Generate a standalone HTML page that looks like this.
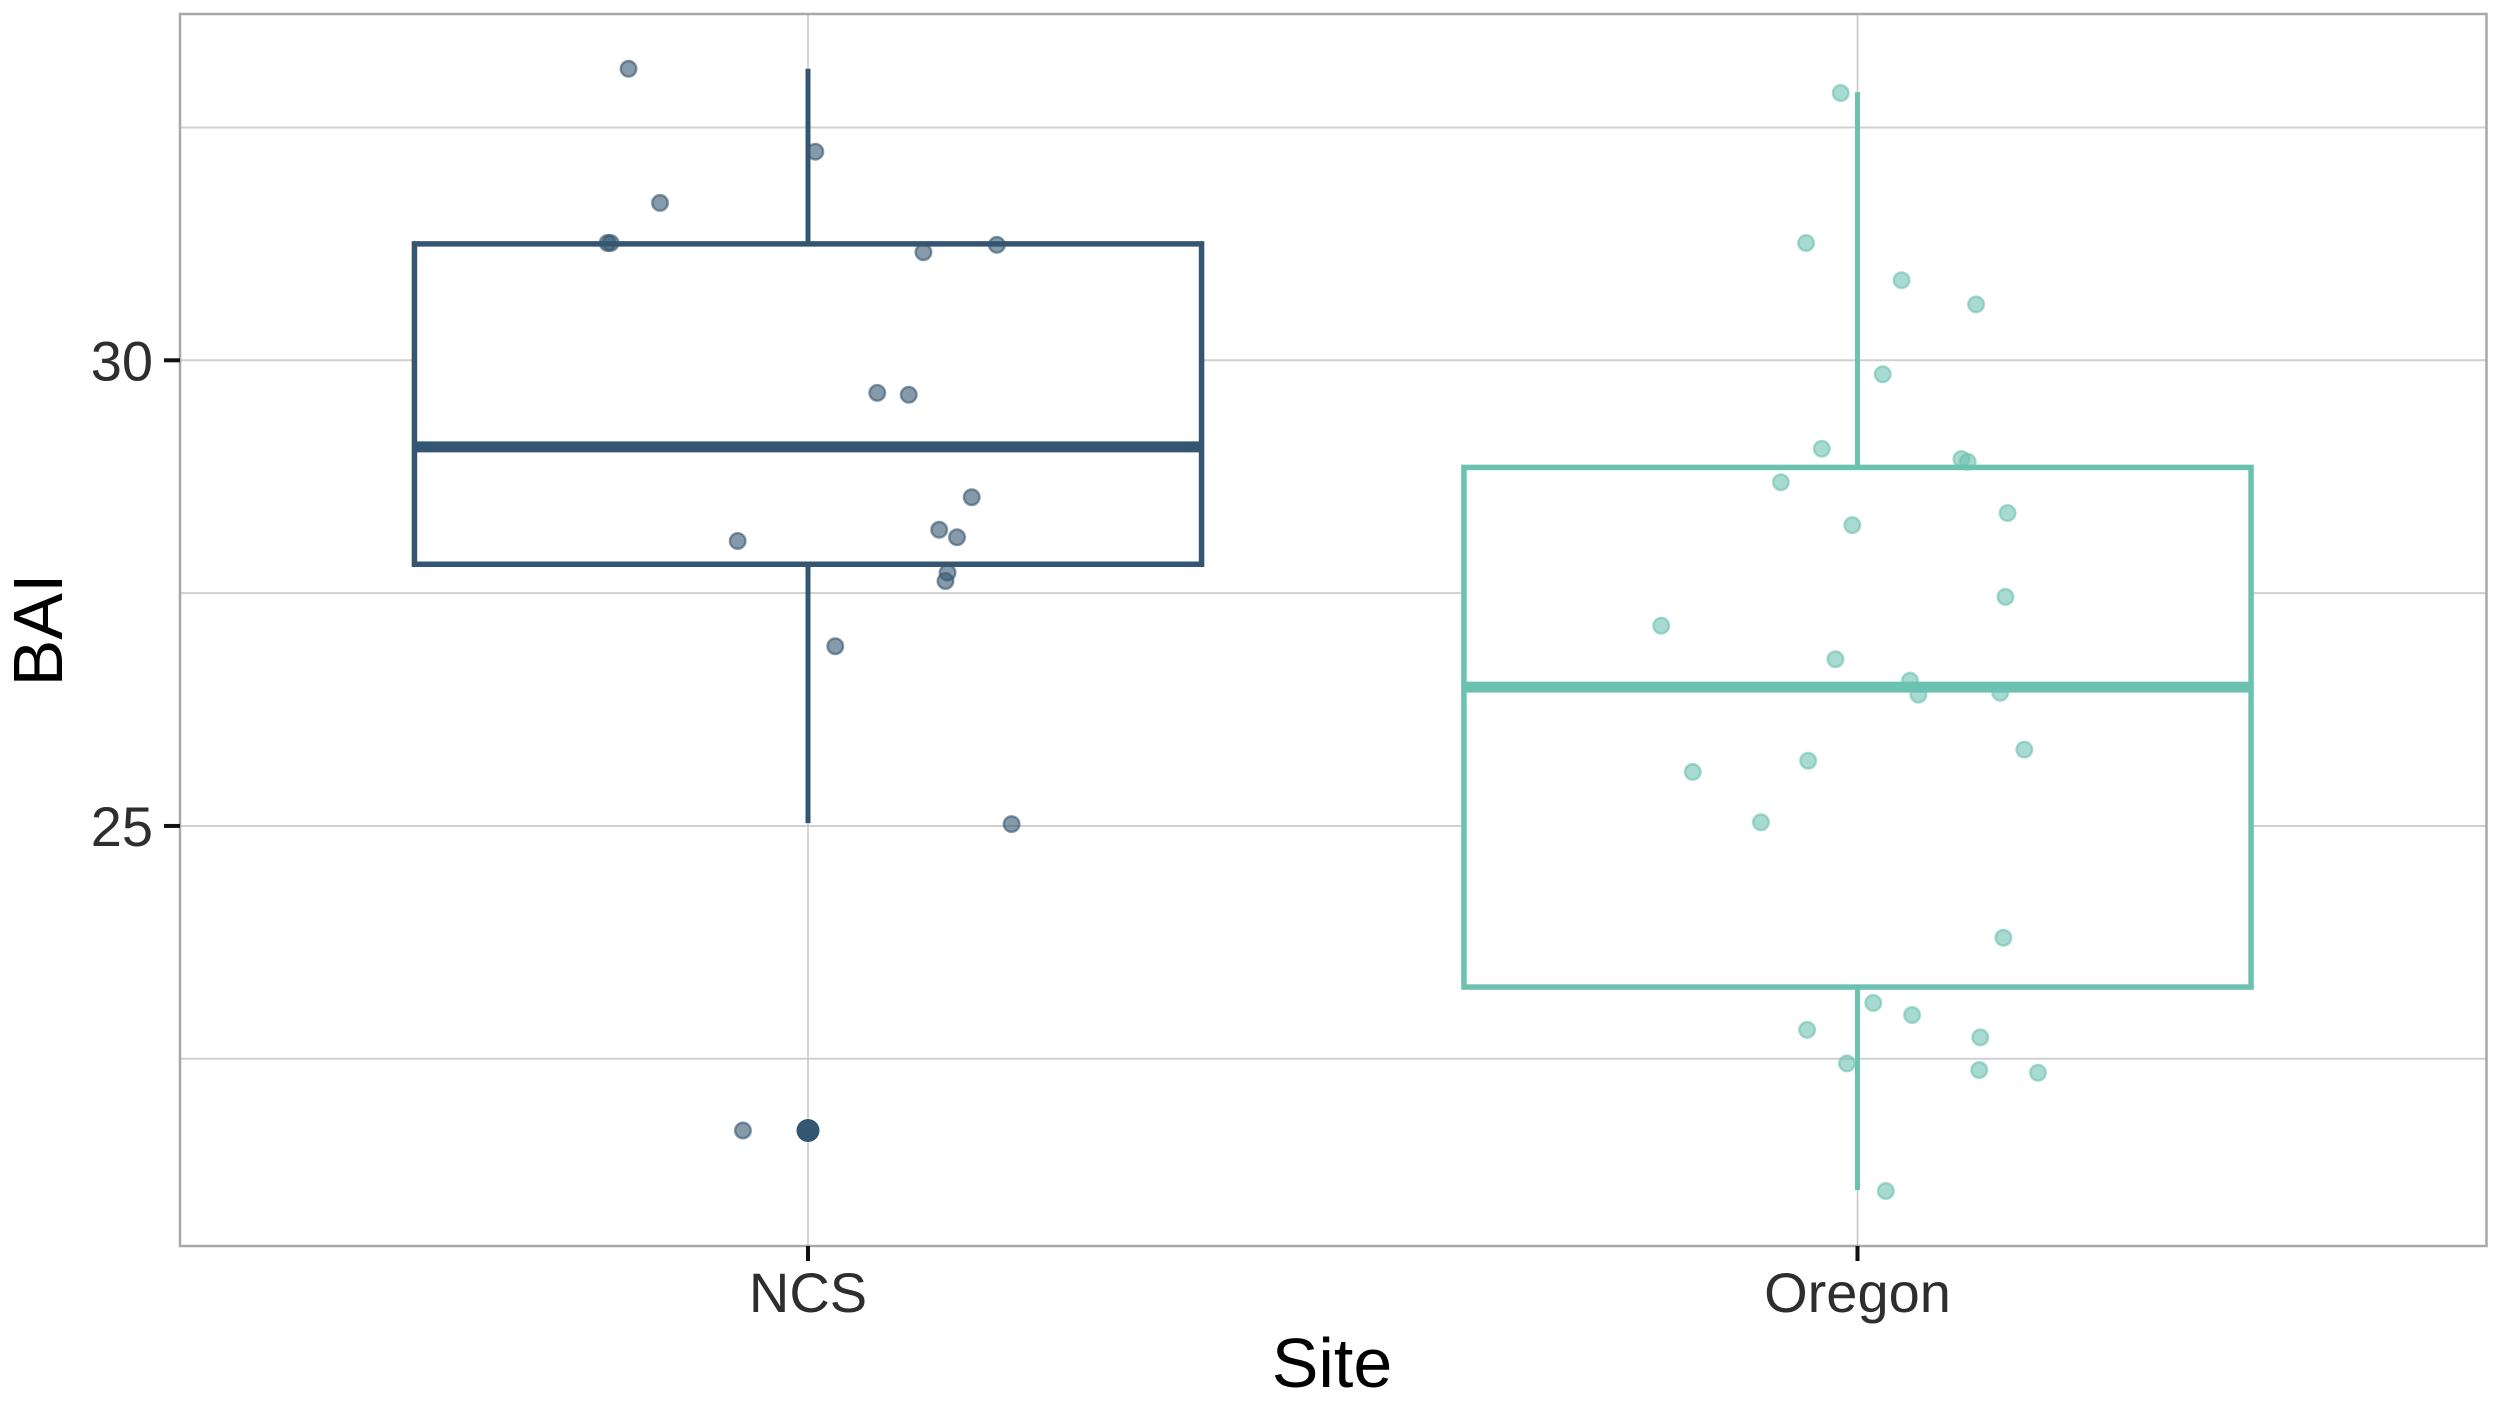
<!DOCTYPE html>
<html lang="en">
<head>
<meta charset="utf-8">
<title>BAI by Site</title>
<style>
html,body{margin:0;padding:0;background:#fff;width:2500px;height:1401px;overflow:hidden}
svg{display:block}
text{font-family:"Liberation Sans",sans-serif}
</style>
</head>
<body>
<svg id="chart" xmlns="http://www.w3.org/2000/svg" width="2500" height="1401" viewBox="0 0 2500 1401"></svg>
<script>
const categories = ['NCS', 'Oregon'];
const yTickLabels = [25, 30];
const yMinorTicks = [22.5, 27.5, 32.5];

const boxLow = [25.03, 21.09];
const boxQ1 = [27.81, 23.27];
const boxMedian = [29.07, 26.49];
const boxQ3 = [31.25, 28.85];
const boxHigh = [33.13, 32.88];

const outlierCategory = [0];
const outlierValues = [21.73];

const ncsJitter = [-0.171, 0.007, -0.141, -0.191, -0.188, 0.110, 0.180, 0.066, 0.096, 0.156, -0.067, 0.125, 0.142, 0.133, 0.131, 0.026, 0.194, -0.062];
const ncsValues = [33.13, 32.24, 31.69, 31.26, 31.26, 31.16, 31.24, 29.65, 29.63, 28.53, 28.06, 28.18, 28.10, 27.72, 27.63, 26.93, 25.02, 21.73];

const oregonJitter = [-0.016, -0.049, 0.042, 0.113, 0.024, -0.034, 0.099, 0.105, -0.073, -0.005, 0.143, 0.141, -0.187, -0.021, 0.050, 0.058, 0.136, 0.159, -0.157, -0.047, -0.092, 0.139, 0.015, 0.052, -0.048, 0.117, -0.010, 0.116, 0.172, 0.027];
const oregonValues = [32.87, 31.26, 30.86, 30.60, 29.85, 29.05, 28.94, 28.91, 28.69, 28.23, 28.36, 27.46, 27.15, 26.79, 26.56, 26.41, 26.43, 25.82, 25.58, 25.70, 25.04, 23.80, 23.10, 22.97, 22.81, 22.73, 22.45, 22.38, 22.35, 21.08];

const colors = ['#355672', '#6cc2b0'];
const svg = document.getElementById('chart');
const NS = 'http://www.w3.org/2000/svg';
const panel = { left: 180, right: 2486.5, top: 14, bottom: 1246 };
const boxWidth = 0.75;

function xScale(c) { return 808 + c * 1049.5; }
function yScale(v) { return 360.3 + (30 - v) * 93.13; }

function make(tag, attrs, text) {
  const el = document.createElementNS(NS, tag);
  for (const k in attrs) el.setAttribute(k, attrs[k]);
  if (text !== undefined) el.textContent = text;
  svg.appendChild(el);
  return el;
}

// Background of the panel
let el = make('rect', { x: panel.left, y: panel.top, width: panel.right - panel.left, height: panel.bottom - panel.top, fill: '#fff' });



// Gridlines
yMinorTicks.concat(yTickLabels).forEach(v => {
  const g = make('line', { x1: panel.left, x2: panel.right, y1: yScale(v), y2: yScale(v), stroke: '#d0d0d0', 'stroke-width': 2 });
  
  
});
categories.forEach((c, i) => {
  const g = make('line', { x1: xScale(i), x2: xScale(i), y1: panel.top, y2: panel.bottom, stroke: '#c6c6c6', 'stroke-width': 1.5 });
  
  
});

// Boxplots
categories.forEach((c, i) => {
  const cx = xScale(i);
  const x0 = xScale(i - boxWidth / 2);
  const x1 = xScale(i + boxWidth / 2);
  const col = colors[i];
  const hiW = make('line', { x1: cx, x2: cx, y1: yScale(boxHigh[i]), y2: yScale(boxQ3[i]), stroke: col, 'stroke-width': 5 });
  
  
  const loW = make('line', { x1: cx, x2: cx, y1: yScale(boxQ1[i]), y2: yScale(boxLow[i]), stroke: col, 'stroke-width': 5 });
  
  
  const box = make('rect', { x: x0, y: yScale(boxQ3[i]), width: x1 - x0, height: yScale(boxQ1[i]) - yScale(boxQ3[i]), fill: '#fff', stroke: col, 'stroke-width': 5.5 });
  
  
  const med = make('line', { x1: x0, x2: x1, y1: yScale(boxMedian[i]), y2: yScale(boxMedian[i]), stroke: col, 'stroke-width': 11 });
  
  
});

// Outliers
outlierValues.forEach((v, i) => {
  const c = outlierCategory[i];
  const o = make('circle', { cx: xScale(c), cy: yScale(v), r: 11.5, fill: colors[c] });
  
  
});

// Jittered points
function drawPoints(jit, vals, c) {
  vals.forEach((v, i) => {
    const p = make('circle', { cx: xScale(c + jit[i]), cy: yScale(v), r: 7.8, fill: colors[c], 'fill-opacity': 0.6, stroke: colors[c], 'stroke-opacity': 0.6, 'stroke-width': 2.4 });
    
    
  });
}
drawPoints(ncsJitter, ncsValues, 0);
drawPoints(oregonJitter, oregonValues, 1);

// Panel border
el = make('rect', { x: panel.left, y: panel.top, width: panel.right - panel.left, height: panel.bottom - panel.top, fill: 'none', stroke: '#a8a8a8', 'stroke-width': 2.5 });



// Y axis
yTickLabels.forEach(v => {
  const t = make('line', { x1: 164, x2: panel.left, y1: yScale(v), y2: yScale(v), stroke: '#111', 'stroke-width': 4 });
  
  
  const l = make('text', { x: 153, y: yScale(v) + 20, 'text-anchor': 'end', 'font-size': 56, fill: '#2e2e2e' }, v);
  
  
});

// X axis
categories.forEach((c, i) => {
  const t = make('line', { x1: xScale(i), x2: xScale(i), y1: panel.bottom, y2: 1261, stroke: '#111', 'stroke-width': 4 });
  
  
  const l = make('text', { x: xScale(i), y: 1312, 'text-anchor': 'middle', 'font-size': 56, fill: '#2e2e2e' }, c);
  
  
});

// Axis titles
el = make('text', { x: 1332, y: 1387, 'text-anchor': 'middle', 'font-size': 70, fill: '#000' }, 'Site');


el = make('text', { x: 62, y: 630, 'text-anchor': 'middle', 'font-size': 70, fill: '#000', transform: 'rotate(-90 62 630)' }, 'BAI');


</script>
</body>
</html>
